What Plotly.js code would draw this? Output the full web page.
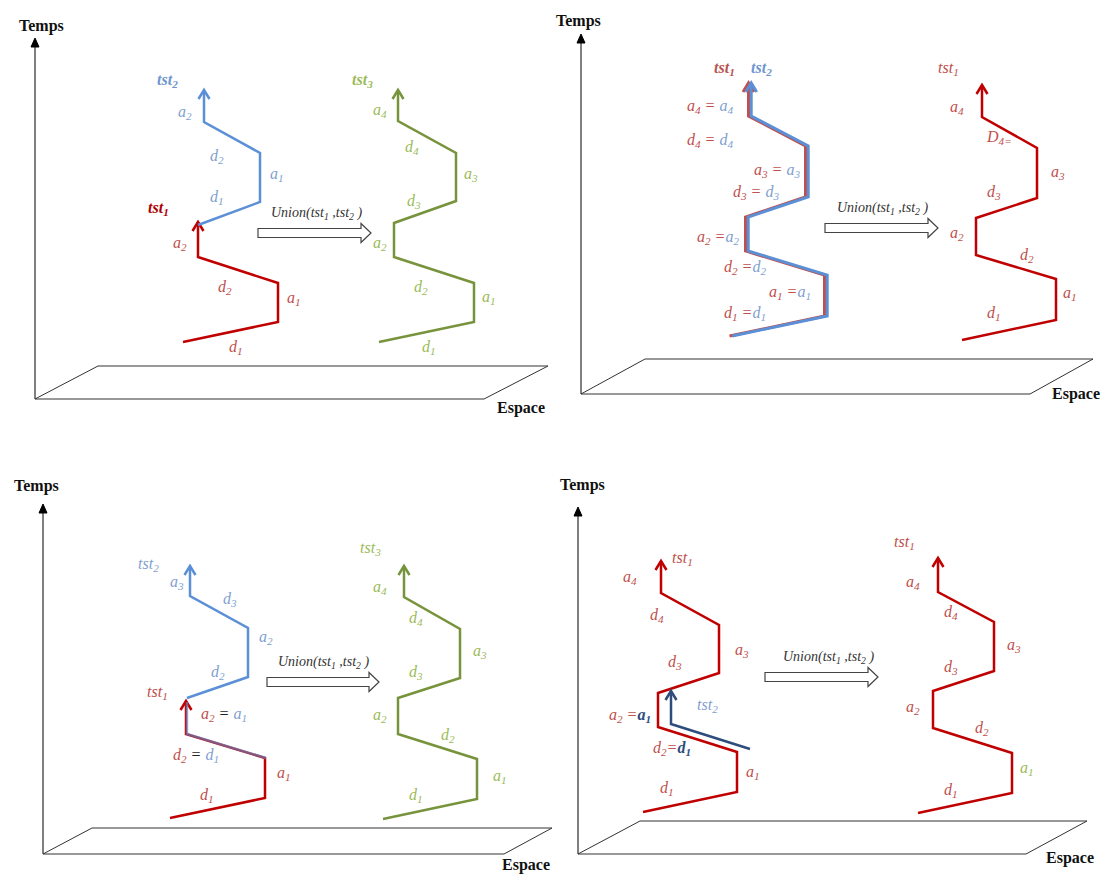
<!DOCTYPE html>
<html><head><meta charset="utf-8">
<script src="https://cdn.plot.ly/plotly-3.0.1.min.js"></script>
<style>html,body{margin:0;padding:0;background:#fff}#chart{width:1105px;height:874px}</style>
</head><body><div id="chart"></div>
<script>
// ---------- Frames (Temps / Espace) for the 4 panels ----------
const axisX        = [35, 581, 43, 578];
const axisBottomY  = [399, 394, 854, 854];
const axisTopY     = [38, 34, 504, 507];
const planeBackLeftX  = [98, 645, 92, 640];
const planeBackY      = [366, 359, 828, 821];
const planeBackRightX = [548, 1093, 552, 1087];
const planeFrontRightX= [484, 1030, 504, 1026];
const tempsX  = [41, 578, 36, 582];
const tempsY  = [26, 21, 486, 485];
const espaceX = [521, 1076, 526, 1070];
const espaceY = [408, 394, 865, 858];

// ---------- Union arrows ----------
const unionX0 = [258, 825, 267, 765];
const unionX1 = [371, 938, 379, 878];
const unionY  = [233, 228, 682, 677];
const unionTextX = [316, 882, 323, 828];
const unionTextY = [213, 208, 662, 657];

// ---------- Trajectories ----------
// Panel 1
const p1_tst1_x = [183, 278, 278, 198, 198];
const p1_tst1_y = [342, 322, 283, 257, 222];
const p1_tst2_x = [198, 260, 260, 204, 204];
const p1_tst2_y = [225, 202, 153, 122, 90];
const p1_tst3_x = [379, 474, 474, 394, 394, 456, 456, 398, 398];
const p1_tst3_y = [342, 322, 283, 257, 223, 201, 153, 121, 90];
// Panel 2
const p2_tst12_x = [731, 826, 826, 747, 747, 807, 807, 750, 750];
const p2_tst12_y = [336, 316, 275, 251, 217, 197, 146, 116, 83];
const p2_res_x = [962, 1056, 1056, 976, 976, 1037, 1037, 982, 982];
const p2_res_y = [340, 320, 279, 255, 218, 198, 148, 117, 85];
// Panel 3
const p3_tst1_x = [170, 265, 265, 186, 186];
const p3_tst1_y = [818, 798, 758, 734, 701];
const p3_common_x = [265, 186, 186];
const p3_common_y = [758, 734, 702];
const p3_tst2_x = [187, 248, 248, 190, 190];
const p3_tst2_y = [698, 677, 628, 596, 566];
const p3_tst3_x = [383, 477, 477, 398, 398, 460, 460, 404, 404];
const p3_tst3_y = [819, 799, 759, 734, 698, 678, 629, 597, 566];
// Panel 4
const p4_tst1_x = [643, 737, 737, 658, 658, 719, 719, 661, 661];
const p4_tst1_y = [812, 792, 752, 727, 693, 673, 625, 593, 561];
const p4_tst2_x = [750, 671, 671];
const p4_tst2_y = [749, 724, 691];
const p4_res_x = [918, 1012, 1012, 933, 933, 994, 994, 938, 938];
const p4_res_y = [813, 793, 753, 728, 691, 671, 622, 592, 558];

// ---------- Labels ----------
const p1_lab_text = ['tst<sub>2</sub>','a<sub>2</sub>','d<sub>2</sub>','a<sub>1</sub>','d<sub>1</sub>',
  'tst<sub>1</sub>','a<sub>2</sub>','d<sub>2</sub>','a<sub>1</sub>','d<sub>1</sub>',
  'tst<sub>3</sub>','a<sub>4</sub>','d<sub>4</sub>','a<sub>3</sub>','d<sub>3</sub>','a<sub>2</sub>','d<sub>2</sub>','a<sub>1</sub>','d<sub>1</sub>'];
const p1_lab_x = [167,185,217,277,217, 158,180,225,294,236, 362,380,412,471,414,380,421,489,429];
const p1_lab_y = [80,112,156,174,197, 208,243,287,298,347, 80,110,147,174,201,243,287,297,347];
const p1_lab_role = ['Bb','b','b','b','b','Rb','r','r','r','r','Gb','g','g','g','g','g','g','g','g'];

const p2_lab_text = ['tst<sub>1</sub>','tst<sub>2</sub>',
  'a<sub>4</sub> = |a<sub>4</sub>','d<sub>4</sub> = |d<sub>4</sub>','a<sub>3</sub> = |a<sub>3</sub>','d<sub>3</sub> = |d<sub>3</sub>',
  'a<sub>2</sub> =|a<sub>2</sub>','d<sub>2</sub> =|d<sub>2</sub>','a<sub>1</sub> =|a<sub>1</sub>','d<sub>1</sub> =|d<sub>1</sub>',
  'tst<sub>1</sub>','a<sub>4</sub>','D<sub>4=</sub>','a<sub>3</sub>','d<sub>3</sub>','a<sub>2</sub>','d<sub>2</sub>','a<sub>1</sub>','d<sub>1</sub>'];
const p2_lab_x = [724,761, 710,710,777,756,718,745,790,745, 948,957,999,1058,994,957,1027,1070,994];
const p2_lab_y = [68,68, 106,140,170,192,237,267,292,313, 68,107,137,172,192,233,255,293,313];
const p2_lab_role = ['Sb','Bb','rb','rb','rb','rb','rb','rb','rb','rb','r','r','r','r','r','r','r','r','r'];

const p3_lab_text = ['tst<sub>2</sub>','a<sub>3</sub>','d<sub>3</sub>','a<sub>2</sub>','d<sub>2</sub>',
  'tst<sub>1</sub>','a<sub>2</sub> <span style="color:#222">=</span> |a<sub>1</sub>','d<sub>2</sub> <span style="color:#222">=</span> |d<sub>1</sub>','a<sub>1</sub>','d<sub>1</sub>',
  'tst<sub>3</sub>','a<sub>4</sub>','d<sub>4</sub>','a<sub>3</sub>','d<sub>3</sub>','a<sub>2</sub>','d<sub>2</sub>','a<sub>1</sub>','d<sub>1</sub>'];
const p3_lab_x = [148,177,230,266,218, 157,224,196,284,207, 370,380,416,480,416,380,448,500,416];
const p3_lab_y = [564,582,599,637,672, 692,714,755,773,795, 548,587,618,651,672,715,735,776,795];
const p3_lab_role = ['b','b','b','b','b','r','rb','rb','r','r','g','g','g','g','g','g','g','g','g'];

const p4_lab_text = ['tst<sub>1</sub>','a<sub>4</sub>','d<sub>4</sub>','a<sub>3</sub>','d<sub>3</sub>','tst<sub>2</sub>',
  'a<sub>2</sub> =|<b>a<sub>1</sub></b>','d<sub>2</sub>=|<b>d<sub>1</sub></b>','a<sub>1</sub>','d<sub>1</sub>',
  'tst<sub>1</sub>','a<sub>4</sub>','d<sub>4</sub>','a<sub>3</sub>','d<sub>3</sub>','a<sub>2</sub>','d<sub>2</sub>','a<sub>1</sub>','d<sub>1</sub>'];
const p4_lab_x = [682,630,657,742,675,707,630,672,753,667, 904,913,951,1014,951,913,982,1027,951];
const p4_lab_y = [558,577,615,650,662,705,715,748,772,788, 542,582,612,645,667,707,728,768,790];
const p4_lab_role = ['r','r','r','r','r','b','rn','rn','r','r','r','r','r','r','r','r','r','g','r'];

// ---------- Styles ----------
const RED = '#c00000', BLUE = '#5b8fd6', GREEN = '#77933c', NAVY = '#2e4d7c';
const RED_T = '#c0504d', BLUE_T = '#7f9fd0', GREEN_T = '#9bbb59';
const SERIF = 'Liberation Serif, Times New Roman, serif';

const traces = [];
const shapes = [];
const annotations = [];

function line(xs, ys, color, width, arrow, dx, opacity) {
  dx = dx || 0;
  traces.push({x: xs.map(v => v + dx), y: ys, mode: 'lines', type: 'scatter',
    line: {color: color, width: width}, opacity: opacity || 1, hoverinfo: 'skip', showlegend: false});
  if (arrow) {
    const tx = xs[xs.length - 1] + dx, ty = ys[ys.length - 1];
    traces.push({x: [tx - 5.5, tx, tx + 5.5], y: [ty + 9, ty, ty + 9], mode: 'lines', type: 'scatter',
      line: {color: color, width: width}, opacity: opacity || 1, hoverinfo: 'skip', showlegend: false});
  }
}

// frames
for (let i = 0; i < 4; i++) {
  shapes.push({type: 'line', xref: 'x', yref: 'y', x0: axisX[i], x1: axisX[i], y0: axisBottomY[i], y1: axisTopY[i] + 6,
    line: {color: '#000', width: 1}});
  shapes.push({type: 'path', xref: 'x', yref: 'y',
    path: `M${axisX[i]},${axisBottomY[i]} L${planeBackLeftX[i]},${planeBackY[i]} L${planeBackRightX[i]},${planeBackY[i]} L${planeFrontRightX[i]},${axisBottomY[i]} Z`,
    line: {color: '#333', width: 1}, fillcolor: 'rgba(0,0,0,0)'});
  shapes.push({type: 'path', xref: 'x', yref: 'y',
    path: `M${axisX[i]},${axisTopY[i]} L${axisX[i] - 4},${axisTopY[i] + 9} L${axisX[i] + 4},${axisTopY[i] + 9} Z`,
    line: {color: '#000', width: 1}, fillcolor: '#000'});
  annotations.push({x: tempsX[i], y: tempsY[i], xref: 'x', yref: 'y', text: '<b>Temps</b>', showarrow: false,
    font: {family: SERIF, size: 16, color: '#111'}, xanchor: 'center', yanchor: 'middle'});
  annotations.push({x: espaceX[i], y: espaceY[i], xref: 'x', yref: 'y', text: '<b>Espace</b>', showarrow: false,
    font: {family: SERIF, size: 16, color: '#111'}, xanchor: 'center', yanchor: 'middle'});
  // hollow union arrow
  const x0 = unionX0[i], x1 = unionX1[i], y = unionY[i], hb = 4.5, hh = 9.5, hl = 10;
  shapes.push({type: 'path', xref: 'x', yref: 'y',
    path: `M${x0},${y - hb} L${x1 - hl},${y - hb} L${x1 - hl},${y - hh} L${x1},${y} L${x1 - hl},${y + hh} L${x1 - hl},${y + hb} L${x0},${y + hb} Z`,
    line: {color: '#444', width: 1.2}, fillcolor: '#fff'});
  annotations.push({x: unionTextX[i], y: unionTextY[i], xref: 'x', yref: 'y',
    text: '<i>Union(tst<sub>1</sub> ,tst<sub>2</sub> )</i>', showarrow: false,
    font: {family: SERIF, size: 14, color: '#333'}, xanchor: 'center', yanchor: 'middle'});
}

// trajectories
line(p1_tst1_x, p1_tst1_y, RED, 2.5, true);
line(p1_tst2_x, p1_tst2_y, BLUE, 2.5, true);
line(p1_tst3_x, p1_tst3_y, GREEN, 2.5, true);

line(p2_tst12_x, p2_tst12_y, '#c0504d', 3, true, -1.5);
line(p2_tst12_x, p2_tst12_y, BLUE, 3, true, 1.2);
line(p2_res_x, p2_res_y, RED, 2.5, true);

line(p3_tst1_x, p3_tst1_y, RED, 2.5, true);
line(p3_common_x, p3_common_y, BLUE, 2.5, false, 1, 0.6);
line(p3_tst2_x, p3_tst2_y, BLUE, 2.5, true);
line(p3_tst3_x, p3_tst3_y, GREEN, 2.5, true);

line(p4_tst1_x, p4_tst1_y, RED, 2.5, true);
line(p4_tst2_x, p4_tst2_y, NAVY, 2.5, true);
line(p4_res_x, p4_res_y, RED, 2.5, true);

// labels
const roleColor = {r: RED_T, b: BLUE_T, g: GREEN_T, R: '#b00000', B: '#6f95d0', G: '#9bbb59', S: '#b85450'};
function labels(texts, xs, ys, roles) {
  for (let k = 0; k < texts.length; k++) {
    const role = roles[k];
    let t = texts[k];
    let color;
    if (role === 'rb') {
      const parts = t.split('|');
      t = parts[0] + `<span style="color:${BLUE_T}">` + parts[1] + '</span>';
      color = RED_T;
    } else if (role === 'rn') {
      const parts = t.split('|');
      t = parts[0] + `<span style="color:${NAVY}">` + parts[1] + '</span>';
      color = RED_T;
    } else {
      color = roleColor[role[0]];
    }
    t = '<i>' + t + '</i>';
    if (role.length === 2 && role[1] === 'b' && role[0] !== 'r') t = '<b>' + t + '</b>';
    annotations.push({x: xs[k], y: ys[k], xref: 'x', yref: 'y', text: t, showarrow: false,
      font: {family: SERIF, size: 16, color: color}, xanchor: 'center', yanchor: 'middle'});
  }
}
labels(p1_lab_text, p1_lab_x, p1_lab_y, p1_lab_role);
labels(p2_lab_text, p2_lab_x, p2_lab_y, p2_lab_role);
labels(p3_lab_text, p3_lab_x, p3_lab_y, p3_lab_role);
labels(p4_lab_text, p4_lab_x, p4_lab_y, p4_lab_role);

const layout = {
  width: 1105, height: 874,
  margin: {l: 0, r: 0, t: 0, b: 0},
  paper_bgcolor: '#fff', plot_bgcolor: '#fff',
  xaxis: {range: [0, 1105], visible: false, fixedrange: true},
  yaxis: {range: [874, 0], visible: false, fixedrange: true},
  shapes: shapes, annotations: annotations, showlegend: false
};
Plotly.newPlot('chart', traces, layout, {displayModeBar: false, staticPlot: true});
</script></body></html>
